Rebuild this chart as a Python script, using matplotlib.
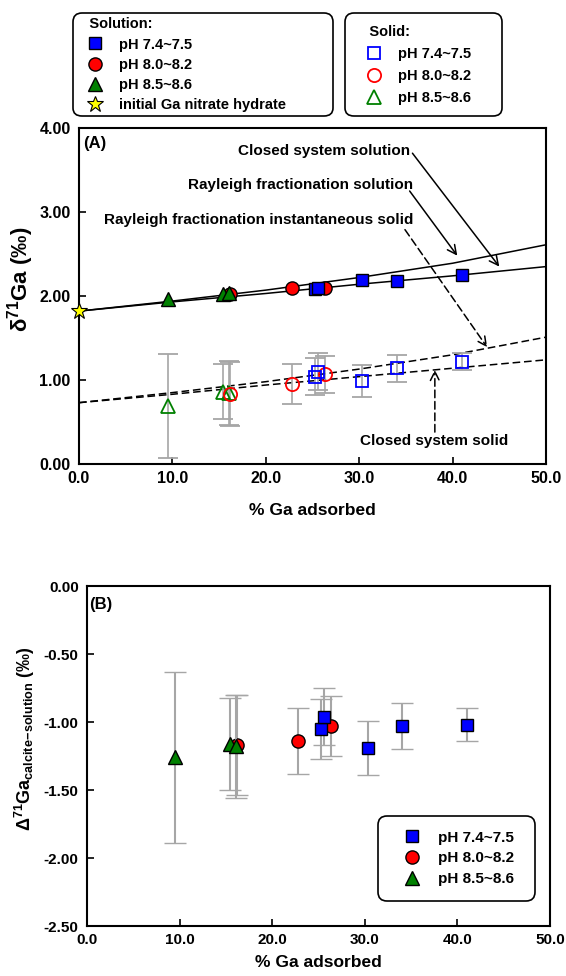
'''
Ga isotope fractionation during adsorption on calcite
'''
import matplotlib
matplotlib.use('Agg')
import matplotlib.pyplot as plt
from matplotlib.lines import Line2D

plt.rcParams['font.family']       = ['Liberation Sans', 'DejaVu Sans']
plt.rcParams['font.weight']       = 'bold'
plt.rcParams['axes.labelweight']  = 'bold'
plt.rcParams['mathtext.fontset']  = 'custom'
plt.rcParams['mathtext.rm']       = 'Liberation Sans:bold'
plt.rcParams['mathtext.it']       = 'Liberation Sans:bold'
plt.rcParams['mathtext.bf']       = 'Liberation Sans:bold'
plt.rcParams['mathtext.sf']       = 'Liberation Sans:bold'

# --------------------------------
# % Ga adsorbed for each pH group
pct_blue  = [25.3, 25.6, 30.3, 34.0, 41.0]
pct_red   = [16.2, 22.8, 26.3]
pct_green = [ 9.5, 15.4, 16.1]

# delta71Ga of solution
sol_blue  = [2.08, 2.09, 2.19, 2.18, 2.25]
sol_red   = [2.02, 2.10, 2.10]
sol_green = [1.96, 2.02, 2.03]

# delta71Ga of solid
sld_blue  = [1.04, 1.10, 0.99, 1.14, 1.22]
sld_red   = [0.83, 0.95, 1.07]
sld_green = [0.69, 0.86, 0.85]
sld_blue_err  = [0.22, 0.22, 0.19, 0.16, 0.10]
sld_red_err   = [0.38, 0.24, 0.22]
sld_green_err = [0.62, 0.33, 0.38]

# initial Ga nitrate hydrate
init_pct   = [0.0]
init_delta = [1.82]

# model curves
model_pct         = [0, 10, 20, 30, 40, 50]
closed_solution   = [1.82, 1.93, 2.03, 2.14, 2.24, 2.35]
rayleigh_solution = [1.82, 1.94, 2.07, 2.22, 2.39, 2.61]
rayleigh_solid    = [0.73, 0.85, 0.98, 1.13, 1.30, 1.51]
closed_solid      = [0.73, 0.83, 0.94, 1.04, 1.14, 1.24]

# Delta71Ga calcite-solution
cap_blue  = [-1.05, -0.96, -1.19, -1.03, -1.02]
cap_red   = [-1.17, -1.14, -1.03]
cap_green = [-1.26, -1.16, -1.18]
cap_blue_err  = [0.22, 0.21, 0.20, 0.17, 0.12]
cap_red_err   = [0.37, 0.24, 0.22]
cap_green_err = [0.63, 0.34, 0.38]

ph_labels = ['pH 7.4~7.5', 'pH 8.0~8.2', 'pH 8.5~8.6']

BLUE  = '#0000ff'
RED   = '#ff0000'
GREEN = '#008000'
GREY  = '#a6a6a6'
# --------------------------------
def _style_axis(ax, labelpad : float, labelsize : float) -> None:
    for spine in ax.spines.values():
        spine.set_linewidth(1.5)
    ax.tick_params(direction='in', length=5, width=1.2, labelsize=labelsize, top=False, right=False)
    ax.tick_params(axis='y', pad=6)
    ax.tick_params(axis='x', pad=5)
    ax.set_xlim(0, 50)
    ax.set_xticks([0, 10, 20, 30, 40, 50])
    ax.set_xticklabels([f'{v:.1f}' for v in [0, 10, 20, 30, 40, 50]])
    ax.set_xlabel('% Ga adsorbed', fontsize=12.5, labelpad=labelpad)
# --------------------------------
def _frame(leg) -> None:
    frame = leg.get_frame()
    frame.set_edgecolor('black')
    frame.set_linewidth(1.2)
    frame.set_boxstyle('round,pad=0,rounding_size=0.6')
# --------------------------------
def _plot_a(fig, ax) -> None:
    ax.plot(model_pct, closed_solution  , color='black', lw=1.1, zorder=2)
    ax.plot(model_pct, rayleigh_solution, color='black', lw=1.1, zorder=2)
    ax.plot(model_pct, rayleigh_solid   , color='black', lw=1.1, ls=(0, (5, 2.5)), zorder=2)
    ax.plot(model_pct, closed_solid     , color='black', lw=1.1, ls=(0, (5, 2.5)), zorder=2)

    err_kw = dict(ls='none', ecolor=GREY, elinewidth=1.2, capsize=7, capthick=1.2, zorder=3)
    ax.errorbar(pct_green, sld_green, yerr=sld_green_err, marker='^', ms=9.5, mfc='none', mec=GREEN, mew=1.3, **err_kw)
    ax.errorbar(pct_red  , sld_red  , yerr=sld_red_err  , marker='o', ms=9.5, mfc='none', mec=RED  , mew=1.3, **err_kw)
    ax.errorbar(pct_blue , sld_blue , yerr=sld_blue_err , marker='s', ms=8.5, mfc='none', mec=BLUE , mew=1.3, **err_kw)

    ax.plot(pct_red  , sol_red  , ls='none', marker='o', ms=9.5, mfc=RED  , mec='black', mew=1.0, zorder=4)
    ax.plot(pct_green, sol_green, ls='none', marker='^', ms=9.5, mfc=GREEN, mec='black', mew=1.0, zorder=4)
    ax.plot(pct_blue , sol_blue , ls='none', marker='s', ms=8.5, mfc=BLUE , mec='black', mew=1.0, zorder=4)
    ax.plot(init_pct , init_delta, ls='none', marker='*', ms=12, mfc='#ffff00', mec='black', mew=0.8, zorder=5, clip_on=False)

    _style_axis(ax, labelpad=12, labelsize=11.5)
    ax.set_ylim(0, 4)
    ax.set_yticks([0, 1, 2, 3, 4])
    ax.set_yticklabels([f'{v:.2f}' for v in [0, 1, 2, 3, 4]])
    ax.set_ylabel('δ$^{71}$Ga (‰)', fontsize=16)
    ax.yaxis.set_label_coords(-0.092, 0.55)
    ax.text(0.008, 0.955, '(A)', transform=ax.transAxes, fontsize=12, va='center', ha='left')

    txt_kw = dict(fontsize=11, ha='right', va='center')
    solid  = dict(arrowstyle='->', color='black', lw=1.1, mutation_scale=16, shrinkA=0, shrinkB=0)
    dashed = dict(solid, linestyle=(0, (5, 2.5)))

    ax.text(35.4, 3.73, 'Closed system solution', **txt_kw)
    ax.annotate('', xy=(45.0, 2.35), xytext=(35.7, 3.70), arrowprops=solid)

    ax.text(35.8, 3.32, 'Rayleigh fractionation solution', **txt_kw)
    ax.annotate('', xy=(40.5, 2.48), xytext=(35.4, 3.25), arrowprops=solid)

    ax.text(35.8, 2.90, 'Rayleigh fractionation instantaneous solid', **txt_kw)
    ax.annotate('', xy=(43.7, 1.39), xytext=(34.9, 2.79), arrowprops=dashed)

    ax.text(38.0, 0.27, 'Closed system solid', fontsize=11, ha='center', va='center')
    ax.annotate('', xy=(38.1, 1.12), xytext=(38.1, 0.38), arrowprops=dashed)

    leg_kw = dict(loc='upper left', mode='expand', borderaxespad=0, fontsize=10.5, alignment='left',
                  title_fontproperties={'weight': 'bold', 'size': 10.5}, handlelength=2.4,
                  handletextpad=0.45, framealpha=1)

    h_sol = [
        Line2D([], [], ls='none', marker='s', ms=8.5, mfc=BLUE , mec='black'),
        Line2D([], [], ls='none', marker='o', ms=9.5, mfc=RED  , mec='black'),
        Line2D([], [], ls='none', marker='^', ms=9.5, mfc=GREEN, mec='black'),
        Line2D([], [], ls='none', marker='*', ms=12, mfc='#ffff00', mec='black', mew=0.8),
    ]
    leg = fig.legend(handles=h_sol, labels=ph_labels + ['initial Ga nitrate hydrate'], title='   Solution:',
                     bbox_to_anchor=(73/566, 1 - 117/976, 260/566, 104/976),
                     borderpad=0.3, labelspacing=0.42, **leg_kw)
    _frame(leg)

    h_sld = [
        Line2D([], [], ls='none', marker='s', ms=8.5, mfc='none', mec=BLUE , mew=1.3),
        Line2D([], [], ls='none', marker='o', ms=9.5, mfc='none', mec=RED  , mew=1.3),
        Line2D([], [], ls='none', marker='^', ms=9.5, mfc='none', mec=GREEN, mew=1.3),
    ]
    leg = fig.legend(handles=h_sld, labels=ph_labels, title='   Solid:',
                     bbox_to_anchor=(345/566, 1 - 117/976, 157/566, 104/976),
                     borderpad=0.8, labelspacing=0.55, **leg_kw)
    _frame(leg)
# --------------------------------
def _plot_b(fig, ax) -> None:
    err_kw = dict(ls='none', ecolor=GREY, elinewidth=1.5, capsize=8, capthick=1.5, mec='black', mew=1.0)
    ax.errorbar(pct_red  , cap_red  , yerr=cap_red_err  , marker='o', ms=9.5, mfc=RED  , zorder=3, **err_kw)
    ax.errorbar(pct_green, cap_green, yerr=cap_green_err, marker='^', ms=9.5, mfc=GREEN, zorder=4, **err_kw)
    ax.errorbar(pct_blue , cap_blue , yerr=cap_blue_err , marker='s', ms=8.5, mfc=BLUE , zorder=3, **err_kw)

    _style_axis(ax, labelpad=6, labelsize=11)
    ax.set_ylim(-2.5, 0)
    ticks = [0, -0.5, -1.0, -1.5, -2.0, -2.5]
    ax.set_yticks(ticks)
    ax.set_yticklabels([f'{v:.2f}' for v in ticks])
    ax.set_ylabel(r'Δ$^{71}$Ga$_{\mathregular{calcite\!-\!solution}}$ (‰)', fontsize=13)
    ax.yaxis.set_label_coords(-0.108, 0.55)
    ax.text(0.005, 0.945, '(B)', transform=ax.transAxes, fontsize=12, va='center', ha='left')

    handles = [
        Line2D([], [], ls='none', marker='s', ms=8.5, mfc=BLUE , mec='black'),
        Line2D([], [], ls='none', marker='o', ms=9.5, mfc=RED  , mec='black'),
        Line2D([], [], ls='none', marker='^', ms=9.5, mfc=GREEN, mec='black'),
    ]
    leg = fig.legend(handles=handles, labels=ph_labels, loc='upper left', mode='expand', borderaxespad=0,
                     bbox_to_anchor=(378/566, 1 - 899/976, 157/566, 83/976), fontsize=11,
                     handlelength=2.6, handletextpad=0.35, borderpad=0.95, labelspacing=0.45, framealpha=1)
    _frame(leg)
# --------------------------------
def main():
    '''
    Start here
    '''
    fig  = plt.figure(figsize=(5.66, 9.76), dpi=100)
    ax_a = fig.add_axes([79/566, 1 - 464/976, 467/566, 336/976])
    ax_b = fig.add_axes([87/566, 1 - 926/976, 463/566, 340/976])

    _plot_a(fig, ax_a)
    _plot_b(fig, ax_b)

    fig.savefig('out.png', dpi=100)
    plt.close(fig)
# --------------------------------
if __name__ == '__main__':
    main()
